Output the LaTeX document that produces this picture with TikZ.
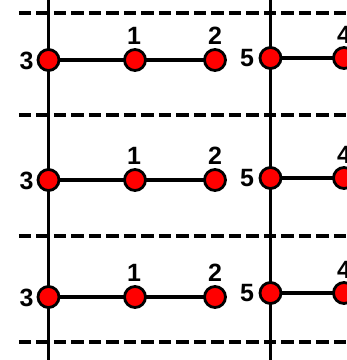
\documentclass[tikz,border=0pt]{standalone}
\usepackage{fontspec}
\setmainfont{Liberation Sans}
\begin{document}
\begin{tikzpicture}[x=1pt,y=-1pt,
  dot/.style={circle,draw=black,fill=red,line width=2.8pt,minimum size=21pt,inner sep=0pt},
  lbl/.style={font=\fontsize{25}{25}\selectfont\bfseries,inner sep=0pt},
  axis/.style={line width=3.8pt},
  link/.style={line width=3.5pt},
  sep/.style={line width=4.5pt,dash pattern=on 12.5pt off 5pt}]
\useasboundingbox (0,0) rectangle (347,360);
% separators
\foreach \i/\y in {1/13,2/115,3/236,4/342}{
  \coordinate (sl\i) at (19,\y);
  \coordinate (sr\i) at (352,\y);
  \draw[sep] (sl\i) -- (sr\i);
}
% vertical lines
\coordinate (lt) at (48.5,-5); \coordinate (lb) at (48.5,365);
\coordinate (rt) at (270.5,-5); \coordinate (rb) at (270.5,365);
\draw[axis] (lt) -- (lb);
\draw[axis] (rt) -- (rb);
% rows
\foreach \r/\yl/\yr in {1/60/58,2/180/178,3/297/293}{
  \node[lbl] (t3r\r) at (26.5,\yl+1) {3};
  \node[lbl] (t1r\r) at (134,\yl-24) {1};
  \node[lbl] (t2r\r) at (215,\yl-24) {2};
  \node[lbl] (t5r\r) at (247,\yr) {5};
  \node[lbl] (t4r\r) at (344,\yr-23) {4};
  \coordinate (c3r\r) at (48.5,\yl);
  \coordinate (c1r\r) at (135,\yl);
  \coordinate (c2r\r) at (215,\yl);
  \coordinate (c5r\r) at (270.5,\yr);
  \coordinate (c4r\r) at (344,\yr);
  \draw[link] (c3r\r) -- (c1r\r) -- (c2r\r);
  \draw[link] (c5r\r) -- (c4r\r);
  \node[dot] (n3r\r) at (c3r\r) {};
  \node[dot] (n1r\r) at (c1r\r) {};
  \node[dot] (n2r\r) at (c2r\r) {};
  \node[dot] (n5r\r) at (c5r\r) {};
  \node[dot] (n4r\r) at (c4r\r) {};
}
\end{tikzpicture}
\end{document}
